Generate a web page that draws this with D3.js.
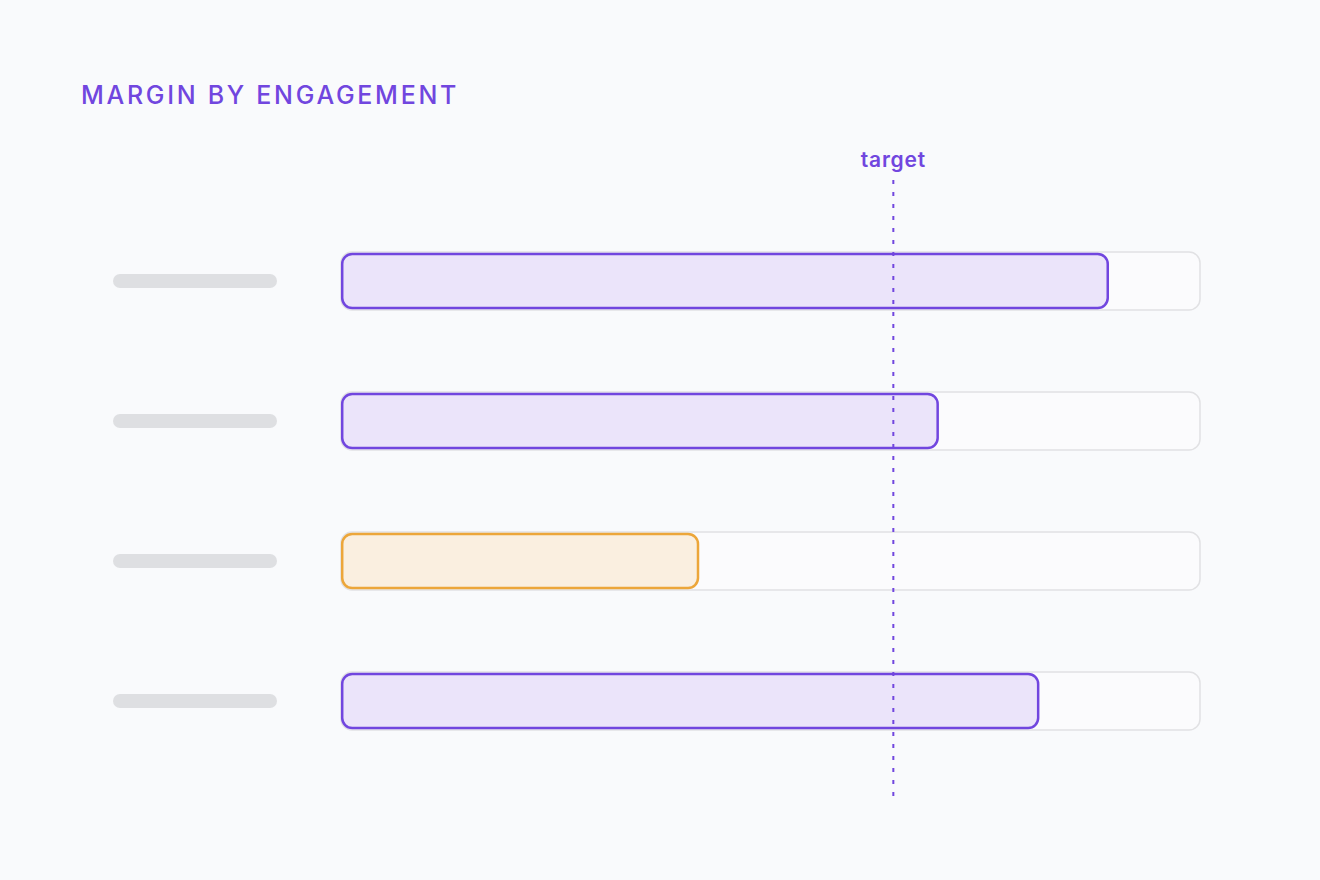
<!DOCTYPE html>
<html><head><meta charset="utf-8">
<script src="https://cdn.jsdelivr.net/npm/d3@7"></script>
<style>
html,body{margin:0;padding:0;background:#f9fafc;}
svg{display:block;}
</style></head>
<body>
<svg id="chart" width="1320" height="880"></svg>
<script>
const categories = ["Engagement 1", "Engagement 2", "Engagement 3", "Engagement 4"];
const values = [89.4, 69.6, 41.7, 81.3];
const status = ["ok", "ok", "below", "ok"];
const target = 64.3;
const domainMax = 100;

const svg = d3.select("#chart");
svg.append("rect").attr("width",1320).attr("height",880).attr("fill","#f9fafc");

const purple = "#7146df", purpleFill = "#ebe4fa";
const orange = "#eca63a", orangeFill = "#faefe0";

svg.append("text").attr("x",81).attr("y",104)
  .attr("font-family","Inter, 'DejaVu Sans', sans-serif")
  .attr("font-size",25).attr("font-weight",500)
  .attr("letter-spacing",2.7).attr("fill",purple)
  .text("MARGIN BY ENGAGEMENT");

const x = d3.scaleLinear().domain([0,domainMax]).range([341,1200]);
const y = d3.scaleBand().domain(categories).range([211,771]).padding(0);
const cy = c => y(c) + y.bandwidth()/2;

const rows = svg.append("g").selectAll("g").data(categories).join("g");

// label placeholders
rows.append("rect")
  .attr("x",113).attr("y",c=>cy(c)-7).attr("width",164).attr("height",14)
  .attr("rx",7).attr("fill","#dedfe2");

// tracks
rows.append("rect")
  .attr("x",x(0)).attr("y",c=>cy(c)-29).attr("width",x(domainMax)-x(0)).attr("height",58)
  .attr("rx",11).attr("fill","#fbfbfd").attr("stroke","#e1e1e4").attr("stroke-width",1.5);

// bars
rows.append("rect")
  .attr("x",x(0)+1.2).attr("y",c=>cy(c)-27)
  .attr("width",(c,i)=>x(values[i])-x(0)-2.4).attr("height",54)
  .attr("rx",10)
  .attr("fill",(c,i)=>status[i]==="below"?orangeFill:purpleFill)
  .attr("stroke",(c,i)=>status[i]==="below"?orange:purple)
  .attr("stroke-width",2.5);

// target line
svg.append("line")
  .attr("x1",x(target)).attr("x2",x(target))
  .attr("y1",180).attr("y2",797)
  .attr("stroke",purple).attr("stroke-width",2)
  .attr("stroke-dasharray","4 8");

svg.append("text").attr("x",x(target)).attr("y",167)
  .attr("text-anchor","middle")
  .attr("font-family","Inter, 'DejaVu Sans', sans-serif")
  .attr("font-size",21).attr("font-weight",600).attr("fill",purple)
  .attr("letter-spacing",0.8)
  .text("target");
</script>
</body></html>
